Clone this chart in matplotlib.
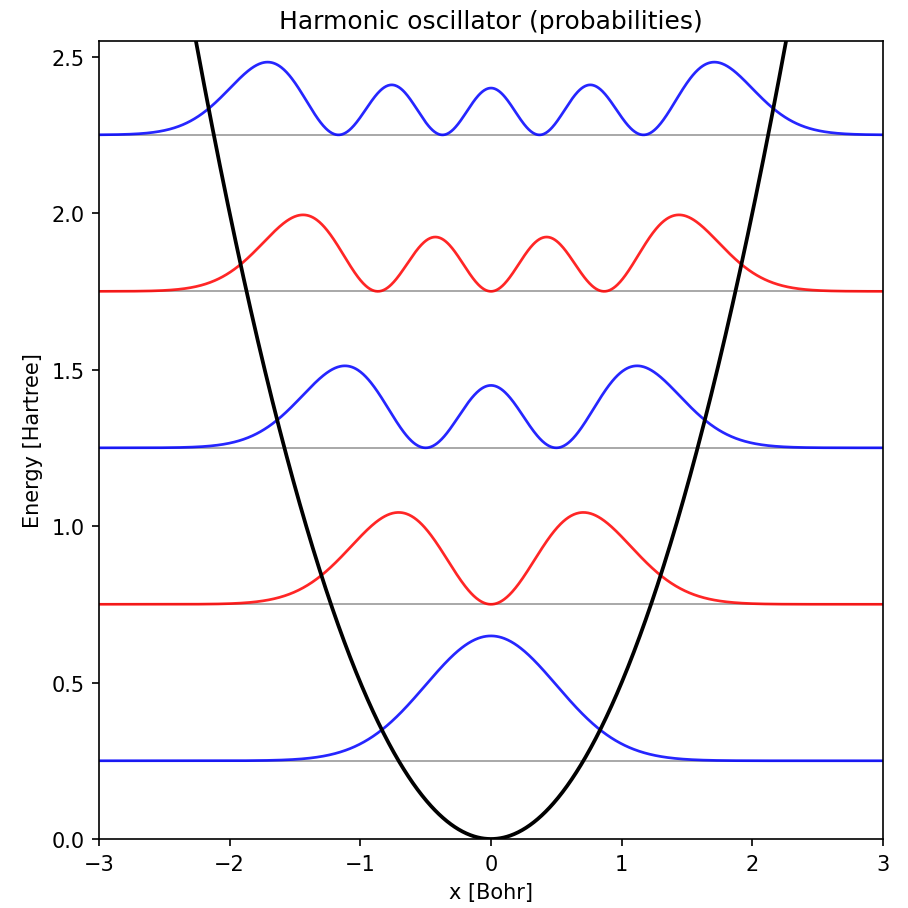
import numpy as np
import matplotlib
matplotlib.use("Agg")
import matplotlib.pyplot as plt
from math import factorial, pi, sqrt
from numpy.polynomial.hermite import hermval

# energy levels [Hartree] and line colours
levels = [0.25, 0.75, 1.25, 1.75, 2.25]
colors = ['blue', 'red', 'blue', 'red', 'blue']
omega = 2.0      # width parameter of the plotted densities
scale = 0.5      # vertical scaling of |psi|^2
k = 1.0          # potential V = 0.5*k*x^2

x = np.linspace(-3, 3, 1200)


def density(n, x):
    xi = np.sqrt(omega) * x
    c = np.zeros(n + 1)
    c[n] = 1
    h = hermval(xi, c)
    return sqrt(omega / pi) * h ** 2 / (2 ** n * factorial(n)) * np.exp(-xi ** 2)


fig = plt.figure(figsize=(908 / 150, 909 / 150), dpi=150)
ax = fig.add_axes([99 / 908, 1 - 840 / 909, 784 / 908, 798 / 909])

for n, (e, col) in enumerate(zip(levels, colors)):
    ax.axhline(e, color='gray', lw=0.8, alpha=0.8)
    ax.plot(x, e + scale * density(n, x), color=col, lw=1.3, alpha=0.85)

ax.plot(x, 0.5 * k * x ** 2, color='black', lw=1.8)

ax.set_xlim(-3, 3)
ax.set_ylim(0, 2.55)
ax.set_xlabel('x [Bohr]')
ax.set_ylabel('Energy [Hartree]')
ax.set_title('Harmonic oscillator (probabilities)')

fig.savefig('out.png', dpi=150)
